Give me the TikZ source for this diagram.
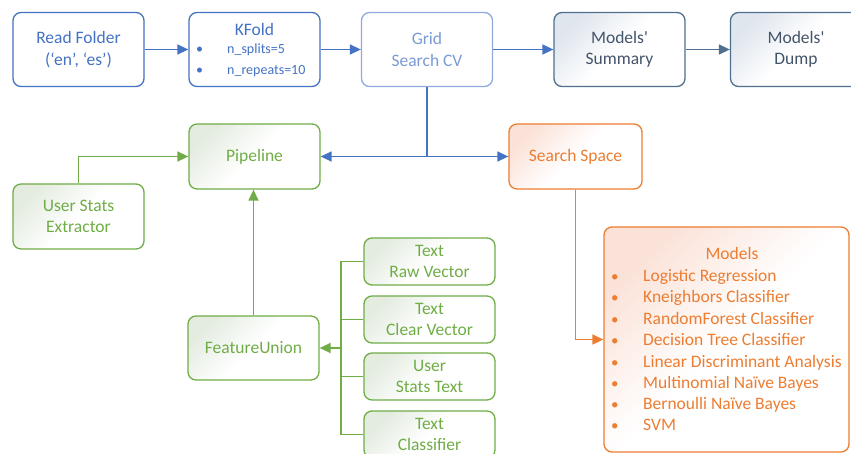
\documentclass[tikz,border=0pt]{standalone}
\usepackage{fontspec}
\setmainfont{Carlito}
\usetikzlibrary{arrows.meta}
\definecolor{oblue}{HTML}{4472C4}
\definecolor{lblue}{HTML}{8FAADC}
\definecolor{lbluetxt}{HTML}{7A9BD6}
\definecolor{slate}{HTML}{4F6F8F}
\definecolor{slatetxt}{HTML}{44546A}
\definecolor{ogreen}{HTML}{70AD47}
\definecolor{oorange}{HTML}{ED7D31}
\definecolor{gfill}{HTML}{E4ECE0}
\definecolor{ofill}{HTML}{FBE2D8}
\definecolor{sfill}{HTML}{E0E6EE}
\tikzset{
  box/.style={draw, rounded corners=8pt, line width=1.3pt, minimum width=131pt, minimum height=74pt, align=center, font=\fontsize{17.5}{21.5}\selectfont, inner sep=2pt},
  bluebox/.style={box, draw=oblue, text=oblue, fill=white},
  gridbox/.style={box, draw=lblue, text=lbluetxt, fill=white},
  slatebox/.style={box, draw=slate, text=slatetxt, top color=sfill, bottom color=white, middle color=white, shading angle=45},
  greenbox/.style={box, draw=ogreen, text=ogreen, top color=gfill, bottom color=white, middle color=white, shading angle=45},
  orangebox/.style={box, draw=oorange, text=oorange, top color=ofill, bottom color=white, middle color=white, shading angle=45},
  conn/.style={line width=1.5pt},
  tip/.style={-{Triangle[length=11pt,width=10pt]}},
  txt/.style={inner sep=0pt, anchor=base west},
}
\begin{document}
\begin{tikzpicture}[x=1pt,y=-1pt]
\clip (0,0) rectangle (851,454);
\useasboundingbox (0,0) rectangle (851,454);
% top row
\node[bluebox] (read) at (78.5,49.5) {Read Folder\\(‘en’, ‘es’)};
\node[bluebox] (kfold) at (254.5,49.5) {};
\node[text=oblue, font=\fontsize{17.5}{20}\selectfont, inner sep=0pt, anchor=base] (kft) at (254.5,36) {KFold};
\node[text=oblue, font=\fontsize{14}{16}\selectfont, txt] (kb1) at (196,54) {•};
\node[text=oblue, font=\fontsize{14}{16}\selectfont, txt] (kb2) at (196,75) {•};
\node[text=oblue, font=\fontsize{14}{16}\selectfont, txt] (ki1) at (227,54) {n\_splits=5};
\node[text=oblue, font=\fontsize{14}{16}\selectfont, txt] (ki2) at (227,75) {n\_repeats=10};
\node[gridbox] (grid) at (427,49.5) {Grid\\Search CV};
\node[slatebox] (summ) at (619.5,49.5) {Models\textquotesingle\\Summary};
\node[slatebox] (dump) at (796,49.5) {Models\textquotesingle\\Dump};
% middle
\node[greenbox, minimum height=65pt] (pipe) at (254.5,156.5) {Pipeline};
\node[orangebox, minimum height=65pt, minimum width=133pt] (ss) at (575.5,156.5) {Search Space};
\node[greenbox, minimum height=65pt] (use) at (78.5,216.5) {User Stats\\Extractor};
% lower
\node[greenbox, minimum height=64pt] (fu) at (253.5,348) {FeatureUnion};
\node[greenbox, minimum height=47pt, font=\fontsize{17.5}{21}\selectfont] (raw) at (429.5,261.5) {Text\\Raw Vector};
\node[greenbox, minimum height=47pt, font=\fontsize{17.5}{21}\selectfont] (clr) at (429.5,319.5) {Text\\Clear Vector};
\node[greenbox, minimum height=47pt, font=\fontsize{17.5}{21}\selectfont] (ust) at (429.5,376.5) {User\\Stats Text};
\node[greenbox, minimum height=47pt, font=\fontsize{17.5}{21}\selectfont] (cls) at (429.5,434.5) {Text\\Classifier};
% models
\node[orangebox, minimum width=245pt, minimum height=225pt] (models) at (726.5,339.5) {};
\node[text=oorange, font=\fontsize{17.5}{20}\selectfont, inner sep=0pt, anchor=base] (mt) at (732,260) {Models};
\foreach \y/\t [count=\i] in {281/Logistic Regression, 302.5/Kneighbors Classifier, 324/RandomForest Classifier, 345/Decision Tree Classifier, 367/Linear Discriminant Analysis, 388/Multinomial Naïve Bayes, 409/Bernoulli Naïve Bayes, 430/SVM}{
  \node[text=oorange, font=\fontsize{15}{18}\selectfont, txt] (mb\i) at (611,\y) {•};
  \node[text=oorange, font=\fontsize{17.5}{20}\selectfont, txt] (mi\i) at (643,\y) {\t};
}
% connectors
\draw[conn, tip, oblue] (read) -- (kfold);
\draw[conn, tip, oblue] (kfold) -- (grid);
\draw[conn, tip, oblue] (grid) -- (summ);
\draw[conn, tip, slate] (summ) -- (dump);
\draw[conn, tip, oblue] (grid.south) |- (pipe.east);
\draw[conn, tip, oblue] (grid.south) |- (ss.west);
\draw[conn, tip, ogreen] (use.north) |- (pipe.west);
\draw[conn, tip, ogreen] (fu.north) -- (fu.north |- pipe.south);
\coordinate (bus) at (341,348);
\draw[conn, ogreen] (raw.west) -| (bus);
\draw[conn, ogreen] (cls.west) -| (bus);
\draw[conn, ogreen] (clr.west) -- (clr.west -| bus);
\draw[conn, ogreen] (ust.west) -- (ust.west -| bus);
\draw[conn, tip, ogreen] (bus) -- (fu.east);
\draw[conn, tip, oorange] (ss.south) |- (models.west);
\end{tikzpicture}
\end{document}
